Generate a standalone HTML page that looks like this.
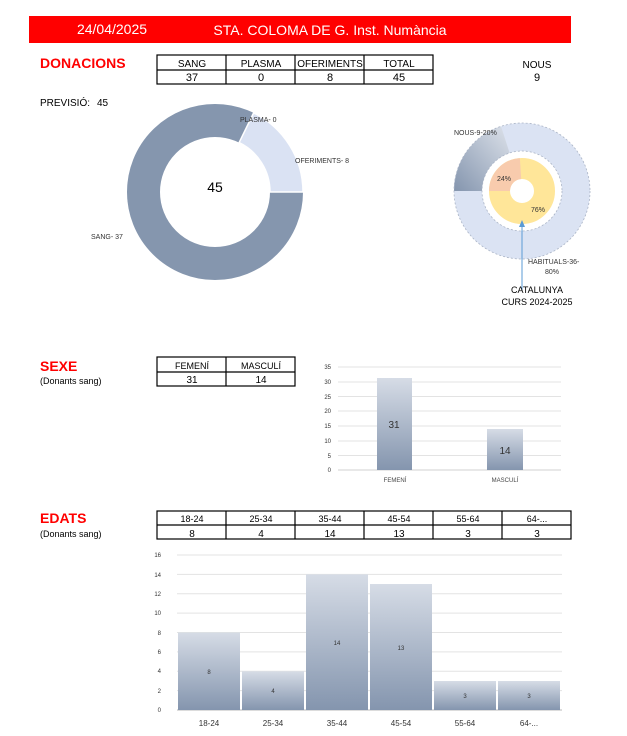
<!DOCTYPE html>
<html><head><meta charset="utf-8"><style>
body{margin:0;background:#fff;}
svg{display:block;font-family:"Liberation Sans",sans-serif;}
</style></head><body>
<svg width="627" height="736" viewBox="0 0 627 736" xmlns="http://www.w3.org/2000/svg">
<defs>
<linearGradient id="bg" x1="0" y1="0" x2="0" y2="1"><stop offset="0" stop-color="#d6dce6"/><stop offset="1" stop-color="#8495ae"/></linearGradient>
<linearGradient id="ng" x1="1" y1="0" x2="0" y2="1"><stop offset="0" stop-color="#dde2ea"/><stop offset="1" stop-color="#8495ae"/></linearGradient>
</defs>
<rect x="29" y="16" width="542" height="27" fill="#ff0000"/>
<text x="112" y="34" font-size="14" fill="#fff" text-anchor="middle">24/04/2025</text>
<text x="330" y="35" font-size="14" fill="#fff" text-anchor="middle">STA. COLOMA DE G. Inst. Numància</text>

<text x="40" y="68" font-size="14" font-weight="bold" fill="#ff0000">DONACIONS</text>
<g stroke="#000" stroke-width="1.2" fill="none">
<rect x="157" y="55" width="276" height="29"/><line x1="157" y1="70" x2="433" y2="70"/>
<line x1="226" y1="55" x2="226" y2="84"/><line x1="295" y1="55" x2="295" y2="84"/><line x1="364" y1="55" x2="364" y2="84"/>
</g>
<g font-size="10" text-anchor="middle">
<text x="192" y="67">SANG</text><text x="261" y="67">PLASMA</text><text x="330" y="67">OFERIMENTS</text><text x="399" y="67">TOTAL</text>
<text x="192" y="81" font-size="11">37</text><text x="261" y="81" font-size="11">0</text><text x="330" y="81" font-size="11">8</text><text x="399" y="81" font-size="11">45</text>
<text x="537" y="68">NOUS</text><text x="537" y="81" font-size="11">9</text>
</g>
<text x="40" y="106" font-size="10">PREVISIÓ:</text><text x="97" y="106" font-size="10">45</text>

<circle cx="215" cy="192" r="71.5" fill="none" stroke="#8596ae" stroke-width="33"/>
<path d="M253.6,112.9 A88,88 0 0 1 303,192 L270,192 A55,55 0 0 0 239.1,142.6 Z" fill="#dae2f3" stroke="#fff" stroke-width="1.5"/>
<text x="215" y="192" font-size="14" text-anchor="middle">45</text>
<g font-size="7" fill="#333">
<text x="240" y="122">PLASMA- 0</text><text x="295" y="163">OFERIMENTS- 8</text><text x="91" y="239">SANG- 37</text>
</g>

<circle cx="522" cy="191" r="54" fill="none" stroke="#dbe3f3" stroke-width="28"/>
<path d="M454,191 A68,68 0 0 1 501,126.3 L509.6,153 A40,40 0 0 0 482,191 Z" fill="url(#ng)"/>
<circle cx="522" cy="191" r="68" fill="none" stroke="#aab4c6" stroke-width="0.8" stroke-dasharray="2,2"/>
<circle cx="522" cy="191" r="40" fill="none" stroke="#aab4c6" stroke-width="0.8" stroke-dasharray="2,2"/>
<circle cx="522" cy="191" r="22.5" fill="none" stroke="#ffe699" stroke-width="21"/>
<path d="M489,191 A33,33 0 0 1 519.9,158.1 L521.2,179 A12,12 0 0 0 510,191 Z" fill="#f8cbad"/>
<g font-size="7" fill="#333">
<text x="454" y="135">NOUS-9-20%</text><text x="497" y="181">24%</text><text x="531" y="212">76%</text>
<text x="528" y="264">HABITUALS-36-</text><text x="545" y="274">80%</text>
</g>
<line x1="522" y1="290" x2="522" y2="225" stroke="#5b9bd5" stroke-width="1"/>
<path d="M522,220 L519,227 L525,227 Z" fill="#5b9bd5"/>
<text x="537" y="293" font-size="9" text-anchor="middle">CATALUNYA</text>
<text x="537" y="305" font-size="9" text-anchor="middle">CURS 2024-2025</text>

<text x="40" y="371" font-size="14" font-weight="bold" fill="#ff0000">SEXE</text>
<text x="40" y="384" font-size="9">(Donants sang)</text>
<g stroke="#000" stroke-width="1.2" fill="none">
<rect x="157" y="357" width="138" height="29"/><line x1="157" y1="372" x2="295" y2="372"/><line x1="226" y1="357" x2="226" y2="386"/>
</g>
<g font-size="9" text-anchor="middle"><text x="192" y="369">FEMENÍ</text><text x="261" y="369">MASCULÍ</text>
<text x="192" y="383" font-size="10">31</text><text x="261" y="383" font-size="10">14</text></g>
<g stroke="#e3e3e3" stroke-width="1">
<line x1="338" y1="367" x2="561" y2="367"/><line x1="338" y1="382" x2="561" y2="382"/><line x1="338" y1="396.5" x2="561" y2="396.5"/><line x1="338" y1="411" x2="561" y2="411"/><line x1="338" y1="426" x2="561" y2="426"/><line x1="338" y1="441" x2="561" y2="441"/><line x1="338" y1="455.5" x2="561" y2="455.5"/></g>
<line x1="338" y1="470" x2="561" y2="470" stroke="#d0d0d0"/>
<g font-size="6" text-anchor="end" fill="#333">
<text x="331" y="369">35</text><text x="331" y="384">30</text><text x="331" y="399">25</text><text x="331" y="413">20</text><text x="331" y="428">15</text><text x="331" y="443">10</text><text x="331" y="458">5</text><text x="331" y="472">0</text></g>
<rect x="377" y="378" width="35" height="92" fill="url(#bg)"/>
<rect x="487" y="429" width="36" height="41" fill="url(#bg)"/>
<text x="394" y="428" font-size="10" text-anchor="middle" fill="#333">31</text>
<text x="505" y="454" font-size="10" text-anchor="middle" fill="#333">14</text>
<g font-size="6" text-anchor="middle" fill="#444"><text x="395" y="482">FEMENÍ</text><text x="505" y="482">MASCULÍ</text></g>

<text x="40" y="523" font-size="14" font-weight="bold" fill="#ff0000">EDATS</text>
<text x="40" y="537" font-size="9">(Donants sang)</text>
<g stroke="#000" stroke-width="1.2" fill="none">
<rect x="157" y="511" width="414" height="28"/><line x1="157" y1="525" x2="571" y2="525"/>
<line x1="226" y1="511" x2="226" y2="539"/><line x1="295" y1="511" x2="295" y2="539"/><line x1="364" y1="511" x2="364" y2="539"/><line x1="433" y1="511" x2="433" y2="539"/><line x1="502" y1="511" x2="502" y2="539"/>
</g>
<g font-size="9" text-anchor="middle">
<text x="192" y="522">18-24</text><text x="261" y="522">25-34</text><text x="330" y="522">35-44</text><text x="399" y="522">45-54</text><text x="468" y="522">55-64</text><text x="537" y="522">64-...</text>
<g font-size="10"><text x="192" y="537">8</text><text x="261" y="537">4</text><text x="330" y="537">14</text><text x="399" y="537">13</text><text x="468" y="537">3</text><text x="537" y="537">3</text></g>
</g>
<g stroke="#e3e3e3" stroke-width="1">
<line x1="177" y1="555" x2="562" y2="555"/><line x1="177" y1="574.4" x2="562" y2="574.4"/><line x1="177" y1="593.8" x2="562" y2="593.8"/><line x1="177" y1="613.1" x2="562" y2="613.1"/><line x1="177" y1="632.5" x2="562" y2="632.5"/><line x1="177" y1="651.9" x2="562" y2="651.9"/><line x1="177" y1="671.3" x2="562" y2="671.3"/><line x1="177" y1="690.6" x2="562" y2="690.6"/></g>
<line x1="177" y1="710" x2="562" y2="710" stroke="#d0d0d0" stroke-width="1.5"/>
<g font-size="6" text-anchor="end" fill="#333">
<text x="161" y="557">16</text><text x="161" y="577">14</text><text x="161" y="596">12</text><text x="161" y="615">10</text><text x="161" y="635">8</text><text x="161" y="654">6</text><text x="161" y="673">4</text><text x="161" y="693">2</text><text x="161" y="712">0</text></g>
<rect x="178" y="632.5" width="62" height="77.5" fill="url(#bg)"/>
<rect x="242" y="671.3" width="62" height="38.7" fill="url(#bg)"/>
<rect x="306" y="574.4" width="62" height="135.6" fill="url(#bg)"/>
<rect x="370" y="584" width="62" height="126" fill="url(#bg)"/>
<rect x="434" y="681" width="62" height="29" fill="url(#bg)"/>
<rect x="498" y="681" width="62" height="29" fill="url(#bg)"/>
<g font-size="6" text-anchor="middle" fill="#333">
<text x="209" y="674">8</text><text x="273" y="693">4</text><text x="337" y="645">14</text><text x="401" y="650">13</text><text x="465" y="698">3</text><text x="529" y="698">3</text></g>
<g font-size="8" text-anchor="middle" fill="#333">
<text x="209" y="726">18-24</text><text x="273" y="726">25-34</text><text x="337" y="726">35-44</text><text x="401" y="726">45-54</text><text x="465" y="726">55-64</text><text x="529" y="726">64-...</text></g>
</svg>
</body></html>
